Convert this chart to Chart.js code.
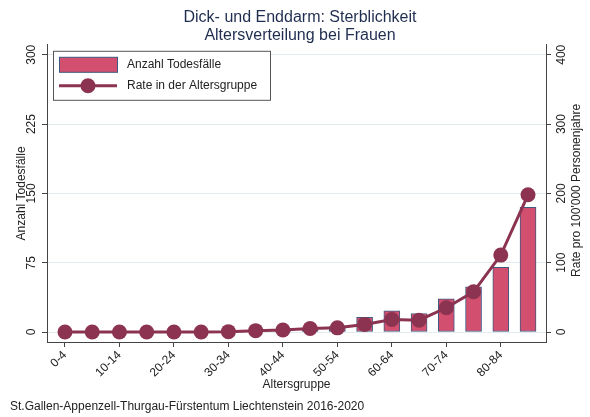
<!DOCTYPE html>
<html>
<head>
<meta charset="utf-8">
<script src="https://cdn.jsdelivr.net/npm/chart.js@4/dist/chart.umd.min.js"></script>
<style>
  body { margin: 0; background: #fff; }
  canvas { display: block; }
</style>
</head>
<body>
<canvas id="chart" width="590" height="417"></canvas>
<script>
const ageGroups = ["0-4", "5-9", "10-14", "15-19", "20-24", "25-29", "30-34", "35-39", "40-44",
  "45-49", "50-54", "55-59", "60-64", "65-69", "70-74", "75-79", "80-84", "85+"];
const deaths = [0, 0, 0, 0, 0, 0, 0, 1, 2, 4, 6, 16, 23, 20, 36, 49, 70, 135];
const rates = [0, 0, 0, 0, 0, 0, 0.5, 2, 3, 5, 6, 11, 18, 17, 35, 58, 111, 198];
const leftTicks = [0, 75, 150, 225, 300];
const rightTicks = [0, 100, 200, 300, 400];
const titleLines = ["Dick- und Enddarm: Sterblichkeit", "Altersverteilung bei Frauen"];
const footer = "St.Gallen-Appenzell-Thurgau-Fürstentum Liechtenstein 2016-2020";

const barColor = "#d24f70";
const barEdge = "#3d5a80";
const lineColor = "#8b3350";
const axisColor = "#444";
const textColor = "#222";

Chart.defaults.font.family = "'Liberation Sans', Arial, sans-serif";
Chart.defaults.font.size = 12;
Chart.defaults.color = textColor;

// legend box drawn inside the plot, like the Stata one
const boxLegend = {
  id: "boxLegend",
  afterDraw(chart) {
    const ctx = chart.ctx;
    const a = chart.chartArea;
    const x0 = a.left + 6, y0 = a.top + 6;
    const sets = chart.data.datasets;
    ctx.save();
    ctx.strokeStyle = "#555";
    ctx.lineWidth = 1;
    ctx.fillStyle = "#fff";
    ctx.fillRect(x0 + 0.5, y0 + 0.5, 217, 49);
    ctx.strokeRect(x0 + 0.5, y0 + 0.5, 217, 49);
    // bar entry
    ctx.fillStyle = barColor;
    ctx.strokeStyle = barEdge;
    ctx.fillRect(x0 + 6.5, y0 + 6.5, 58, 15);
    ctx.strokeRect(x0 + 6.5, y0 + 6.5, 58, 15);
    // line entry
    ctx.strokeStyle = lineColor;
    ctx.lineWidth = 3;
    ctx.beginPath();
    ctx.moveTo(x0 + 6, y0 + 35);
    ctx.lineTo(x0 + 64, y0 + 35);
    ctx.stroke();
    ctx.fillStyle = lineColor;
    ctx.beginPath();
    ctx.arc(x0 + 35, y0 + 35, 7.5, 0, Math.PI * 2);
    ctx.fill();
    ctx.fillStyle = textColor;
    ctx.font = "12px 'Liberation Sans', Arial, sans-serif";
    ctx.textBaseline = "middle";
    ctx.textAlign = "left";
    ctx.fillText(sets[0].label, x0 + 74, y0 + 14);
    ctx.fillText(sets[1].label, x0 + 74, y0 + 35);
    ctx.restore();
  }
};

// right axis title reads bottom to top in the reference
const rightTitle = {
  id: "rightTitle",
  afterDraw(chart) {
    const s = chart.scales.y2;
    const ctx = chart.ctx;
    ctx.save();
    ctx.translate(s.right - 13, (s.top + s.bottom) / 2 - 3);
    ctx.rotate(-Math.PI / 2);
    ctx.fillStyle = textColor;
    ctx.font = "12px 'Liberation Sans', Arial, sans-serif";
    ctx.textAlign = "center";
    ctx.textBaseline = "middle";
    ctx.fillText("Rate pro 100'000 Personenjahre", 0, 0);
    ctx.restore();
  }
};

new Chart(document.getElementById("chart"), {
  data: {
    datasets: [
      {
        type: "bar",
        label: "Anzahl Todesfälle",
        data: deaths.map((v, i) => ({ x: i, y: v })),
        backgroundColor: barColor,
        borderColor: barEdge,
        borderWidth: 1,
        borderSkipped: false,
        barThickness: 16,
        yAxisID: "y",
        order: 1
      },
      {
        type: "line",
        label: "Rate in der Altersgruppe",
        data: rates.map((v, i) => ({ x: i, y: v })),
        borderColor: lineColor,
        borderWidth: 3,
        pointRadius: 7.5,
        pointBackgroundColor: lineColor,
        pointBorderWidth: 0,
        tension: 0,
        yAxisID: "y2",
        order: 0
      }
    ]
  },
  options: {
    responsive: false,
    animation: false,
    layout: { padding: { left: 10, right: 0, top: 0, bottom: 3 } },
    plugins: {
      legend: { display: false },
      tooltip: { enabled: false },
      title: {
        display: true,
        text: titleLines,
        color: "#1f2d4f",
        font: { size: 16, weight: "normal", lineHeight: 1.15 },
        padding: { top: 8, bottom: 0 }
      },
      subtitle: {
        display: true,
        position: "bottom",
        align: "start",
        text: footer,
        color: textColor,
        font: { size: 12, lineHeight: 1.2 },
        padding: 0
      }
    },
    scales: {
      x: {
        type: "linear",
        offset: false,
        min: -0.66,
        max: 17.66,
        afterBuildTicks: s => { s.ticks = ageGroups.map((g, i) => ({ value: i })).filter(t => t.value % 2 === 0); },
        afterFit: s => { s.height = 57.6; },
        ticks: {
          callback: v => ageGroups[v],
          minRotation: 45,
          maxRotation: 45,
          padding: 1,
          color: textColor
        },
        grid: { offset: false, drawOnChartArea: false, tickLength: 5, tickColor: axisColor },
        border: { color: axisColor },
        title: { display: true, text: "Altersgruppe", padding: { top: 0, bottom: 7.4 }, font: { size: 12, lineHeight: 1.2 } }
      },
      y: {
        position: "left",
        min: -10.8,
        max: 310.8,
        afterBuildTicks: s => { s.ticks = leftTicks.map(v => ({ value: v })); },
        afterFit: s => { s.width = 37; },
        ticks: { minRotation: 90, maxRotation: 90, crossAlign: "center", padding: 0, color: textColor },
        grid: { color: "#e4ebef", tickLength: 5, tickColor: axisColor },
        border: { color: axisColor },
        title: { display: true, text: "Anzahl Todesfälle", padding: { top: 4, bottom: 0 }, font: { size: 12, lineHeight: 1.2 } }
      },
      y2: {
        position: "right",
        min: -14.4,
        max: 414.4,
        afterBuildTicks: s => { s.ticks = rightTicks.map(v => ({ value: v })); },
        afterFit: s => { s.width = 44; },
        ticks: { minRotation: 90, maxRotation: 90, crossAlign: "center", padding: 1, color: textColor },
        grid: { drawOnChartArea: false, tickLength: 5, tickColor: axisColor },
        border: { color: axisColor }
      }
    }
  },
  plugins: [boxLegend, rightTitle]
});
</script>
</body>
</html>
